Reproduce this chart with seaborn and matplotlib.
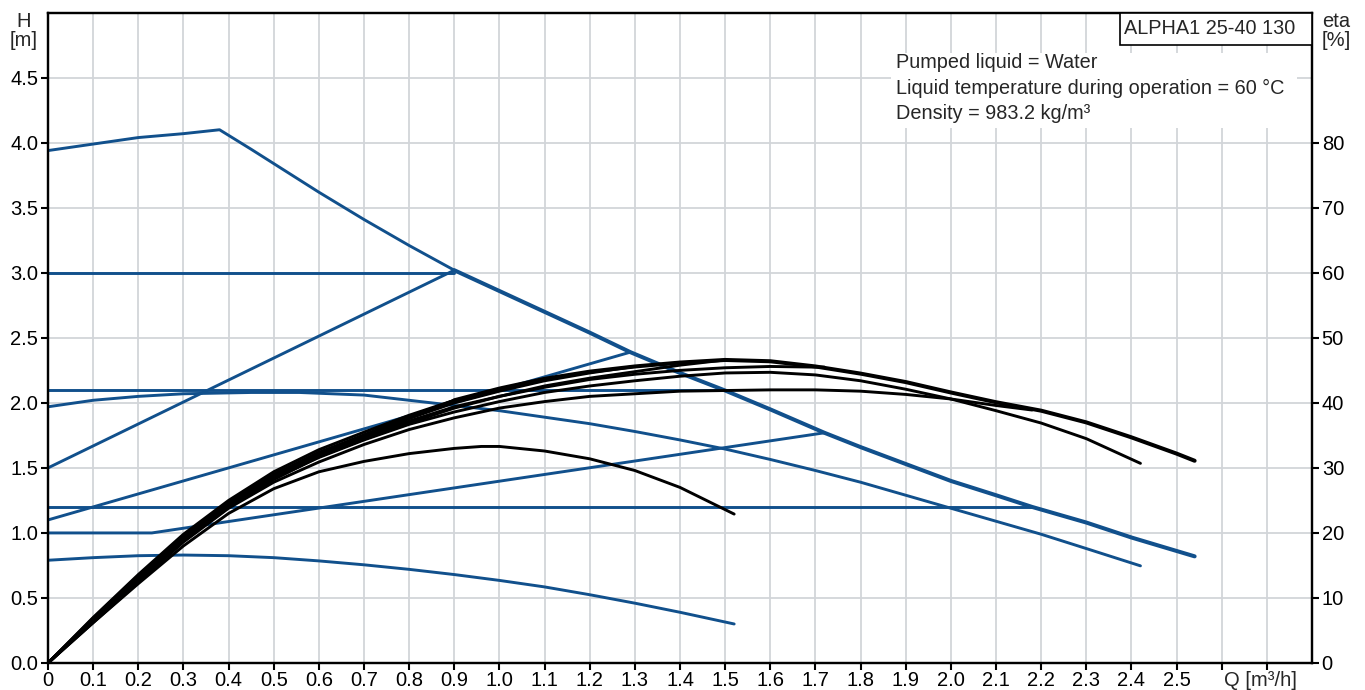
import numpy as np
import seaborn as sns
import matplotlib.pyplot as plt
import matplotlib.transforms as mtransforms
from matplotlib.patches import Rectangle

# ---- H curves (Q in m3/h, H in m) ----
q_max = [0, 0.1, 0.2, 0.3, 0.38, 0.45, 0.5, 0.6, 0.7, 0.8, 0.9, 1.0, 1.1, 1.2, 1.29, 1.4,
         1.5, 1.6, 1.72, 1.8, 1.9, 2.0, 2.1, 2.18, 2.3, 2.4, 2.54]
h_max = [3.94, 3.99, 4.04, 4.07, 4.10, 3.95, 3.84, 3.62, 3.41, 3.21, 3.02, 2.86, 2.70, 2.54, 2.39,
         2.23, 2.095, 1.95, 1.77, 1.66, 1.53, 1.40, 1.29, 1.20, 1.08, 0.965, 0.82]

q_cp3 = [0, 0.9]
h_cp3 = [3.0, 3.0]
q_pp_c = [0, 0.9]
h_pp_c = [1.5, 3.02]
q_cp21 = [0, 1.5]
h_cp21 = [2.1, 2.1]
q_pp_f = [0, 1.29]
h_pp_f = [1.1, 2.39]
q_cp12 = [0, 2.18]
h_cp12 = [1.2, 1.2]
q_pp_h = [0, 0.23, 1.72]
h_pp_h = [1.0, 1.0, 1.77]

q_sp2 = [0, 0.1, 0.2, 0.3, 0.45, 0.557, 0.7, 0.8, 0.9, 1.0, 1.1, 1.2, 1.3, 1.4, 1.5, 1.6,
         1.7, 1.8, 1.9, 2.0, 2.1, 2.2, 2.3, 2.42]
h_sp2 = [1.97, 2.02, 2.05, 2.07, 2.08, 2.08, 2.06, 2.02, 1.98, 1.94, 1.89, 1.84, 1.78, 1.715,
         1.645, 1.565, 1.48, 1.39, 1.29, 1.19, 1.09, 0.99, 0.88, 0.747]

q_sp1 = [0, 0.1, 0.2, 0.3, 0.4, 0.5, 0.6, 0.7, 0.8, 0.9, 1.0, 1.1, 1.2, 1.3, 1.4, 1.52]
h_sp1 = [0.79, 0.81, 0.825, 0.83, 0.825, 0.81, 0.785, 0.755, 0.72, 0.68, 0.635, 0.585, 0.525,
         0.46, 0.39, 0.30]

# ---- eta curves (eta in %) ----
q_e_max = [0, 0.1, 0.2, 0.3, 0.4, 0.5, 0.6, 0.7, 0.8, 0.9, 1.0, 1.1, 1.2, 1.3, 1.4, 1.5, 1.6,
           1.7, 1.8, 1.9, 2.0, 2.1, 2.2, 2.3, 2.4, 2.5, 2.54]
e_max = [0, 7.0, 13.6, 19.8, 25.0, 29.4, 32.8, 35.5, 38.1, 40.4, 42.2, 43.7, 44.8, 45.6, 46.2,
         46.6, 46.4, 45.6, 44.5, 43.2, 41.6, 40.1, 38.8, 37.0, 34.7, 32.2, 31.1]

q_e_cp3 = [0, 0.1, 0.2, 0.3, 0.4, 0.5, 0.6, 0.7, 0.8, 0.9]
e_cp3 = [0, 6.9, 13.4, 19.5, 24.6, 28.9, 32.3, 35.1, 37.8, 40.4]
q_e_pp_c = [0, 0.1, 0.2, 0.3, 0.4, 0.5, 0.6, 0.7, 0.8, 0.9]
e_pp_c = [0, 6.6, 12.9, 18.9, 24.0, 28.4, 31.9, 34.8, 37.6, 40.4]
q_e_pp_f = [0, 0.1, 0.2, 0.3, 0.4, 0.5, 0.6, 0.7, 0.8, 0.9, 1.0, 1.1, 1.2, 1.3]
e_pp_f = [0, 6.8, 13.4, 19.6, 24.6, 29.0, 32.4, 35.0, 37.6, 40.0, 41.8, 43.4, 44.6, 45.6]
q_e_cp21 = [0, 0.1, 0.2, 0.3, 0.4, 0.5, 0.6, 0.7, 0.8, 0.9, 1.0, 1.1, 1.2, 1.3, 1.4, 1.5]
e_cp21 = [0, 6.5, 12.8, 18.8, 23.9, 28.2, 31.7, 34.4, 36.9, 39.2, 41.0, 42.6, 43.8, 44.8, 45.8, 46.6]
q_e_pp_h = [0, 0.1, 0.2, 0.3, 0.4, 0.5, 0.6, 0.7, 0.8, 0.9, 1.0, 1.1, 1.2, 1.3, 1.4, 1.5, 1.6,
            1.7, 1.72]
e_pp_h = [0, 6.6, 13.2, 19.4, 24.4, 28.8, 32.0, 34.6, 37.2, 39.4, 41.0, 42.4, 43.6, 44.4, 45.0,
          45.4, 45.6, 45.5, 45.5]
q_e_sp2 = [0, 0.1, 0.2, 0.3, 0.4, 0.5, 0.6, 0.7, 0.8, 0.9, 1.0, 1.1, 1.2, 1.3, 1.4, 1.5, 1.6,
           1.7, 1.8, 1.9, 2.0, 2.1, 2.2, 2.3, 2.42]
e_sp2 = [0, 6.4, 12.8, 19.0, 24.2, 28.4, 31.6, 34.3, 36.7, 38.6, 40.2, 41.6, 42.6, 43.4, 44.1,
         44.6, 44.7, 44.3, 43.4, 42.1, 40.6, 38.8, 36.9, 34.5, 30.7]
q_e_cp12 = [0, 0.1, 0.2, 0.3, 0.4, 0.5, 0.6, 0.7, 0.8, 0.9, 1.0, 1.1, 1.2, 1.3, 1.4, 1.5, 1.6,
            1.7, 1.8, 1.9, 2.0, 2.1, 2.18]
e_cp12 = [0, 6.2, 12.4, 18.6, 23.8, 27.8, 30.9, 33.6, 35.9, 37.7, 39.2, 40.2, 41.0, 41.4, 41.8,
          41.9, 42.0, 42.0, 41.8, 41.3, 40.6, 39.6, 38.9]
q_e_sp1 = [0, 0.1, 0.2, 0.3, 0.4, 0.5, 0.6, 0.7, 0.8, 0.9, 0.96, 1.0, 1.1, 1.2, 1.3, 1.4, 1.52]
e_sp1 = [0, 6.2, 12.2, 18.0, 23.0, 26.8, 29.4, 31.0, 32.2, 33.0, 33.3, 33.3, 32.6, 31.4, 29.6,
         27.0, 22.9]

x_ticks = [round(0.1 * i, 1) for i in range(28)]
x_labels = ['0'] + ['%.1f' % v for v in x_ticks[1:26]] + ['', '']
h_ticks = [0.5 * i for i in range(10)]
eta_ticks = list(range(0, 81, 10))

BLUE = '#11508c'
GRID = '#d2d5d9'
FS = 14.5

sns.set_theme(style="ticks")
plt.rcParams['font.family'] = ['Liberation Sans', 'DejaVu Sans']

fig = plt.figure(figsize=(13.65, 6.9), dpi=100)
ax = fig.add_axes([48 / 1365, 1 - 663 / 690, (1312 - 48) / 1365, (663 - 12.7) / 690])


def ax_frac(px, py):
    # figure pixel -> axes fraction
    return (px - 48) / 1264, (663 - py) / 650.3


# blue H curves
thin, thick = 2.1, 2.9
cut = q_max.index(0.9)
sns.lineplot(x=q_max[:cut + 1], y=h_max[:cut + 1], ax=ax, color=BLUE, lw=thin, estimator=None, sort=False)
sns.lineplot(x=q_max[cut:], y=h_max[cut:], ax=ax, color=BLUE, lw=thick, estimator=None, sort=False)
for q, h in [(q_cp3, h_cp3), (q_pp_c, h_pp_c), (q_cp21, h_cp21), (q_pp_f, h_pp_f),
             (q_cp12, h_cp12), (q_pp_h, h_pp_h), (q_sp2, h_sp2), (q_sp1, h_sp1)]:
    sns.lineplot(x=q, y=h, ax=ax, color=BLUE, lw=thin, estimator=None, sort=False)

ax.set_xlim(0, 2.8)
ax.set_ylim(0, 5.0)
ax.set_xticks(x_ticks)
ax.set_xticklabels(x_labels)
ax.set_yticks(h_ticks)
ax.set_yticklabels(['%.1f' % v for v in h_ticks])
ax.set_xlabel('')
ax.set_ylabel('')
ax.grid(True, color=GRID, lw=1.3)
ax.set_axisbelow(True)
ax.tick_params(direction='out', length=5, width=1.5, pad=2, labelsize=FS,
               color='black', labelcolor='black')
ax.tick_params(axis='x', pad=1)
for s in ax.spines.values():
    s.set_color('black')
    s.set_linewidth(1.6)

# black eta curves on the right axis
ax2 = ax.twinx()
cut_e = q_e_max.index(0.9)
sns.lineplot(x=q_e_max[:cut_e + 1], y=e_max[:cut_e + 1], ax=ax2, color='black', lw=thin,
             estimator=None, sort=False)
sns.lineplot(x=q_e_max[cut_e:], y=e_max[cut_e:], ax=ax2, color='black', lw=thick,
             estimator=None, sort=False)
for q, e in [(q_e_cp3, e_cp3), (q_e_pp_c, e_pp_c), (q_e_pp_f, e_pp_f), (q_e_cp21, e_cp21),
             (q_e_pp_h, e_pp_h), (q_e_sp2, e_sp2), (q_e_cp12, e_cp12), (q_e_sp1, e_sp1)]:
    sns.lineplot(x=q, y=e, ax=ax2, color='black', lw=thin, estimator=None, sort=False)
ax2.set_ylim(0, 100)
ax2.set_yticks(eta_ticks)
ax2.set_ylabel('')
ax2.grid(False)
ax2.tick_params(direction='out', length=5, width=1.5, pad=2, labelsize=FS,
                color='black', labelcolor='black')
for s in ax2.spines.values():
    s.set_color('black')
    s.set_linewidth(1.6)

# axis titles
trans = mtransforms.blended_transform_factory(ax.transData, ax.transAxes)
ax.annotate('Q [m³/h]', xy=(2.686, 0), xycoords=trans, xytext=(0, -8.5),
            textcoords='offset pixels', ha='center', va='top', fontsize=FS)
fig.text(24 / 1365, 1 - 21.5 / 690, 'H', ha='center', va='center', fontsize=FS)
fig.text(24 / 1365, 1 - 41 / 690, '[m]', ha='center', va='center', fontsize=FS)
fig.text(1322 / 1365, 1 - 21.5 / 690, 'eta', ha='left', va='center', fontsize=FS)
fig.text(1322 / 1365, 1 - 41 / 690, '[%]', ha='left', va='center', fontsize=FS)

# pump name box
bx, by = ax_frac(1120, 45)
ax2.add_patch(Rectangle((bx, by), 1 - bx, 1 - by, transform=ax2.transAxes, fc='white',
                        ec='black', lw=1.2, clip_on=False, zorder=5))
fig.text(1124 / 1365, 1 - 29 / 690, 'ALPHA1 25-40 130', ha='left', va='center',
         fontsize=14.3, zorder=6)

# liquid info on a white patch
rx0, ry0 = ax_frac(891, 128)
rx1, ry1 = ax_frac(1297, 53)
ax2.add_patch(Rectangle((rx0, ry0), rx1 - rx0, ry1 - ry0, transform=ax2.transAxes,
                        fc='white', ec='none', zorder=4))
info_lines = ['Pumped liquid = Water',
              'Liquid temperature during operation = 60 °C',
              'Density = 983.2 kg/m³']
for line, base in zip(info_lines, [68, 93.5, 119]):
    fig.text(896 / 1365, 1 - base / 690, line, ha='left', va='baseline', fontsize=14.3, zorder=6)

fig.savefig('out.png', dpi=100)
